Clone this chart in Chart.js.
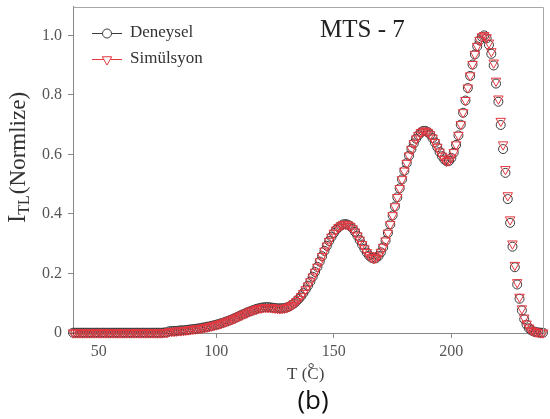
<!DOCTYPE html>
<html><head><meta charset="utf-8">
<script src="https://cdn.jsdelivr.net/npm/chart.js@4.4.1/dist/chart.umd.min.js"></script>
<style>html,body{margin:0;padding:0;background:#fff}canvas{display:block}</style>
</head><body>
<canvas id="c" width="550" height="419"></canvas>
<script>
// Temperature (°C)
const temperatures = [
 39,40,41,42,43,44,45,46,47,48,49,50,51,52,53,54,55,56,57,58,59,60,61,62,63,64,65,66,67,68,69,70,71,72,73,74,75,76,77,78,79,
 80,81,82,83,84,85,86,87,88,89,90,91,92,93,94,95,96,97,98,99,100,101,102,103,104,105,106,107,108,109,110,111,112,113,114,115,116,117,118,119,
 120,121,122,123,124,125,126,127,128,129,130,131,132,133,134,135,136,137,138,139,140,141,142,143,144,145,146,147,148,149,150,151,152,153,154,155,156,157,158,159,
 160,161,162,163,164,165,166,167,168,169,170,171,172,173,174,175,176,177,178,179,180,181,182,183,184,185,186,187,188,189,190,191,192,193,194,195,196,197,198,199,
 200,201,202,203,204,205,206,207,208,209,210,211,212,213,214,215,216,217,218,219,220,221,222,223,224,225,226,227,228,229,230,231,232,233,234,235,236,237,238,239
];
// Deneysel (experimental), normalised TL intensity
const deneysel = [
 .001,.001,.001,.001,.001,.001,.001,.001,.001,.001,.001,.001,.001,.001,.001,.001,.001,.001,.001,.001,.001,.001,.001,.001,.001,.001,.001,.001,.001,.001,.001,.001,.001,.001,.001,.001,.001,.001,.001,.002,.002,
 .006,.006,.007,.007,.008,.009,.009,.010,.011,.012,.013,.014,.015,.016,.018,.019,.021,.022,.024,.026,.028,.030,.033,.035,.038,.041,.044,.047,.051,.054,.058,.062,.065,.069,.072,.075,.078,.081,.083,.085,
 .086,.087,.087,.086,.085,.084,.083,.083,.083,.084,.086,.089,.094,.099,.106,.114,.123,.134,.146,.159,.173,.189,.205,.222,.240,.258,.276,.293,.309,.323,.336,.347,.355,.361,.365,.366,.364,.359,.351,.340,
 .327,.312,.297,.283,.270,.260,.253,.250,.252,.259,.271,.288,.310,.336,.365,.395,.425,.456,.486,.516,.545,.571,.596,.618,.637,.653,.665,.674,.679,.679,.675,.667,.655,.640,.624,.608,.594,.583,.577,.578,
 .588,.606,.632,.664,.700,.740,.781,.823,.864,.902,.936,.963,.983,.995,1.000,.990,.968,.938,.899,.838,.777,.699,.618,.538,.450,.370,.290,.221,.163,.115,.076,.046,.028,.016,.009,.005,.003,.002,.001,.001
];
// Simülsyon (simulation), normalised TL intensity
const simulasyon = [
 .001,.001,.001,.001,.001,.001,.001,.001,.001,.001,.001,.001,.001,.001,.001,.001,.001,.001,.001,.001,.001,.001,.001,.001,.001,.001,.001,.001,.001,.001,.001,.001,.001,.001,.001,.001,.001,.001,.001,.002,.002,
 .005,.006,.006,.007,.008,.008,.009,.010,.011,.012,.013,.014,.015,.016,.017,.019,.020,.022,.024,.026,.028,.030,.032,.035,.038,.041,.044,.047,.050,.054,.058,.061,.065,.068,.072,.075,.078,.080,.083,.084,
 .086,.086,.086,.086,.085,.084,.083,.082,.083,.084,.086,.089,.093,.099,.106,.114,.123,.134,.146,.159,.173,.189,.205,.222,.240,.258,.276,.293,.309,.323,.336,.347,.355,.361,.365,.366,.364,.359,.351,.340,
 .327,.313,.298,.284,.271,.261,.254,.251,.253,.260,.272,.289,.310,.336,.365,.395,.425,.456,.486,.516,.545,.571,.596,.618,.637,.653,.665,.674,.679,.679,.675,.667,.656,.641,.625,.609,.595,.584,.578,.579,
 .589,.607,.633,.665,.701,.741,.782,.824,.865,.903,.937,.964,.984,.996,1.000,.993,.975,.946,.908,.847,.787,.712,.633,.550,.462,.381,.300,.228,.170,.121,.082,.051,.031,.018,.010,.006,.004,.002,.001,.001
];
const xTicks = [50, 100, 150, 200];
const yTicks = [0, 0.2, 0.4, 0.6, 0.8, 1.0];
const seriesNames = ['Deneysel', 'Simülsyon'];
const chartTitle = 'MTS - 7';
const panelLabel = '(b)';

const SERIF = '"Liberation Serif", "Times New Roman", serif';
const BLACKISH = '#3a3a3a';
const RED = '#e4363f';

const toPts = arr => temperatures.map((t, i) => ({x: t, y: arr[i]}));

const decor = {
  id: 'decor',
  afterDraw(chart) {
    const ctx = chart.ctx, a = chart.chartArea;
    ctx.save();
    // frame (top/right)
    ctx.strokeStyle = '#a8a8a8';
    ctx.lineWidth = 1;
    ctx.beginPath();
    ctx.moveTo(Math.round(a.left) + 0.5, Math.round(a.top) + 0.5);
    ctx.lineTo(Math.round(a.right) - 0.5, Math.round(a.top) + 0.5);
    ctx.lineTo(Math.round(a.right) - 0.5, Math.round(a.bottom) + 0.5);
    ctx.stroke();

    // title
    ctx.fillStyle = '#222';
    ctx.font = '25px ' + SERIF;
    ctx.textBaseline = 'alphabetic';
    ctx.textAlign = 'left';
    ctx.fillText(chartTitle, 320, 37);

    // legend
    const rows = [{y: 33, name: seriesNames[0], color: BLACKISH, shape: 'circle'},
                  {y: 59, name: seriesNames[1], color: RED, shape: 'tri'}];
    rows.forEach(r => {
      ctx.strokeStyle = r.color;
      ctx.lineWidth = 1;
      ctx.beginPath();
      ctx.moveTo(92, r.y + 0.5); ctx.lineTo(122, r.y + 0.5); ctx.stroke();
      ctx.fillStyle = '#fff';
      ctx.beginPath();
      if (r.shape === 'circle') {
        ctx.arc(107, r.y + 0.5, 4.5, 0, Math.PI * 2);
      } else {
        const R = 5.5, s = R * Math.sin(Math.PI / 3);
        ctx.moveTo(107, r.y + 0.5 + R);
        ctx.lineTo(107 - s, r.y + 0.5 - R / 2);
        ctx.lineTo(107 + s, r.y + 0.5 - R / 2);
        ctx.closePath();
      }
      ctx.fill(); ctx.stroke();
      ctx.fillStyle = '#333';
      ctx.font = '17px ' + SERIF;
      ctx.fillText(r.name, 130, r.y + 4);
    });

    // x axis title: T (°C)
    ctx.fillStyle = '#444';
    ctx.font = '17px ' + SERIF;
    let x = 287;
    const by = 379;
    ctx.fillText('T (', x, by);
    x += ctx.measureText('T (').width;
    ctx.font = '17px ' + SERIF;
    ctx.fillText('°', x + 0.5, by - 5);
    ctx.fillText('C)', x, by);

    // panel label
    ctx.fillStyle = '#111';
    ctx.font = '26px "Open Sans", "Noto Sans", sans-serif';
    ctx.textAlign = 'center';
    ctx.fillText(panelLabel, 313, 409);

    // y axis title: I_TL (Normlize)
    ctx.translate(25, 223);
    ctx.rotate(-Math.PI / 2);
    ctx.textAlign = 'left';
    ctx.fillStyle = '#333';
    ctx.font = '25px ' + SERIF;
    let p = 0;
    ctx.fillText('I', p, 0);
    p += ctx.measureText('I').width;
    ctx.font = '16px ' + SERIF;
    ctx.fillText('TL', p, 4);
    p += ctx.measureText('TL').width + 1;
    ctx.font = '23px ' + SERIF;
    ctx.fillText('(Normlize)', p, 0);
    ctx.restore();
  }
};

new Chart(document.getElementById('c'), {
  type: 'scatter',
  data: {
    datasets: [
      {label: seriesNames[0], data: toPts(deneysel), showLine: false,
       pointStyle: 'circle', pointRadius: 4.5, pointBorderWidth: 1,
       pointBorderColor: BLACKISH, pointBackgroundColor: 'rgba(0,0,0,0)', order: 2, clip: false},
      {label: seriesNames[1], data: toPts(simulasyon), showLine: false,
       pointStyle: 'triangle', rotation: 180, pointRadius: 5.5, pointBorderWidth: 1,
       pointBorderColor: RED, pointBackgroundColor: 'rgba(0,0,0,0)', order: 1, clip: false}
    ]
  },
  options: {
    responsive: false,
    animation: false,
    events: [],
    layout: {padding: {top: 4, right: 2, left: 0, bottom: 0}},
    plugins: {legend: {display: false}, tooltip: {enabled: false}, title: {display: false}},
    scales: {
      x: {
        type: 'linear', min: 39, max: 239.2,
        afterBuildTicks: s => { s.ticks = xTicks.map(v => ({value: v})); },
        afterFit: s => { s.height = 86; s.paddingLeft = 0; s.paddingRight = 0; },
        ticks: {color: '#555', font: {family: SERIF, size: 16}, padding: 4, maxRotation: 0},
        grid: {display: true, drawOnChartArea: false, drawTicks: true, tickLength: 5, color: '#888'},
        border: {display: true, color: '#888', width: 1}
      },
      y: {
        type: 'linear', min: 0, max: 1.097,
        afterBuildTicks: s => { s.ticks = yTicks.map(v => ({value: v})); },
        afterFit: s => { s.width = 73; s.paddingTop = 0; s.paddingBottom = 0; },
        ticks: {color: '#555', font: {family: SERIF, size: 16}, padding: 6,
                callback: v => v === 0 ? '0' : Number(v).toFixed(1)},
        grid: {display: true, drawOnChartArea: false, drawTicks: true, tickLength: 5, color: '#888'},
        border: {display: true, color: '#888', width: 1}
      }
    }
  },
  plugins: [decor]
});
</script>
</body></html>
